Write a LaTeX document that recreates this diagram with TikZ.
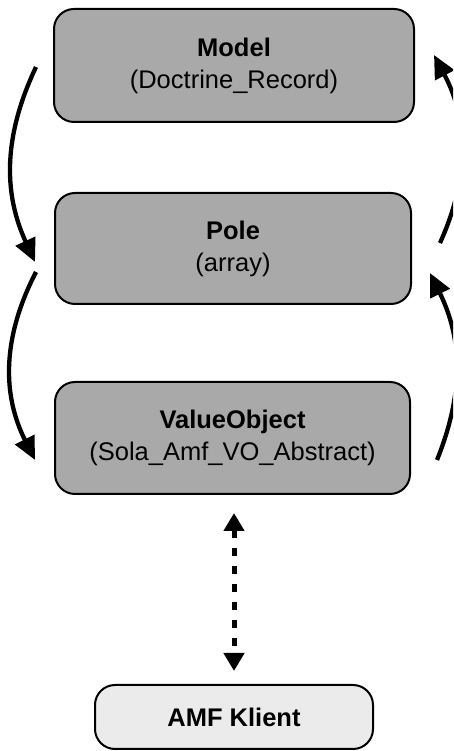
\documentclass[tikz,border=0pt]{standalone}
\usepackage{fontspec}
\setmainfont{Liberation Sans}
\usetikzlibrary{arrows.meta}

\definecolor{boxgray}{HTML}{A9A9A9}
\definecolor{clientgray}{HTML}{EBEBEB}

\tikzset{
  layer/.style={draw=black, line width=2pt, fill=boxgray, rounded corners=20pt,
    align=center, inner sep=0pt, font=\fontsize{25.5}{32}\selectfont},
  client/.style={layer, fill=clientgray},
  flow/.style={line width=4.3pt, -{Triangle[length=23pt, width=21pt]}},
  link/.style={line width=5pt, dash pattern=on 8pt off 10pt,
    {Triangle[length=18pt, width=20pt]}-{Triangle[length=18pt, width=20pt]}}
}

\begin{document}
\begin{tikzpicture}[x=1pt, y=1pt]
  \useasboundingbox (0,0) rectangle (453,751);
  \clip (0,0) rectangle (453,751);

  % the three layers and the client
  \node[layer, minimum width=360pt, minimum height=113pt] (model) at (234,685.5)
    {\textbf{Model}\\(Doctrine\_Record)};
  \node[layer, minimum width=356pt, minimum height=111pt] (pole) at (233,502.5)
    {\textbf{Pole}\\(array)};
  \node[layer, minimum width=355pt, minimum height=112pt] (vo) at (232.5,313)
    {\textbf{ValueObject}\\(Sola\_Amf\_VO\_Abstract)};
  \node[client, minimum width=278pt, minimum height=64pt] (amf) at (234,34)
    {\textbf{AMF Klient}};

  % conversions downwards (left side)
  \draw[flow] ([shift={(-17pt,-1.5pt)}]model.west) to[bend right=25]
              ([shift={(-19pt,-13.5pt)}]pole.west);
  \draw[flow] ([shift={(-18pt,-23.5pt)}]pole.west) to[bend right=27]
              ([shift={(-19pt,-22pt)}]vo.west);

  % conversions upwards (right side)
  \draw[flow] ([shift={(26pt,-22pt)}]vo.east) to[bend right=24]
              ([shift={(18pt,-24.5pt)}]pole.east);
  \draw[flow] ([shift={(28pt,5.5pt)}]pole.east) to[bend right=26]
              ([shift={(19pt,10.5pt)}]model.east);

  % exchange with the client
  \draw[link, shorten <=18pt, shorten >=13pt] (vo.south -| amf.north) -- (amf.north);
\end{tikzpicture}
\end{document}
